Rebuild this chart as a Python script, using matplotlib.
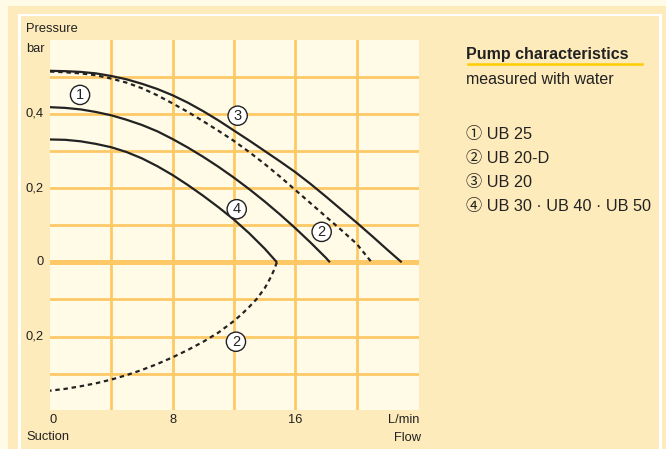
import matplotlib
matplotlib.use("Agg")
import matplotlib.pyplot as plt
from matplotlib.patches import Rectangle
from matplotlib.lines import Line2D

plt.rcParams['font.family'] = ['Liberation Sans', 'Noto Sans CJK JP', 'DejaVu Sans']

# ---------------- data ----------------
# flow in L/min, pressure in bar
flow_3 = [0, 1, 2, 3, 4, 5, 6, 7, 8, 9, 10, 11, 12, 13, 14, 15, 16, 17, 18, 19, 20, 21, 22, 22.94]
pres_3 = [0.516, 0.515, 0.513, 0.509, 0.502, 0.493, 0.481, 0.467, 0.450, 0.430, 0.407, 0.382,
          0.355, 0.328, 0.300, 0.272, 0.243, 0.211, 0.177, 0.142, 0.107, 0.071, 0.034, 0.0]

flow_2 = [0, 1, 2, 3, 4, 5, 6, 7, 8, 9, 10, 11, 12, 13, 14, 15, 16, 17, 18, 19, 20, 20.98]
pres_2 = [0.514, 0.512, 0.509, 0.504, 0.495, 0.484, 0.469, 0.450, 0.428, 0.405, 0.380, 0.354,
          0.327, 0.297, 0.265, 0.231, 0.195, 0.159, 0.123, 0.087, 0.050, 0.0]

flow_1 = [0, 1, 2, 3, 4, 5, 6, 7, 8, 9, 10, 11, 12, 13, 14, 15, 16, 17, 18, 18.26]
pres_1 = [0.418, 0.416, 0.412, 0.405, 0.396, 0.384, 0.370, 0.353, 0.332, 0.309, 0.284, 0.257,
          0.228, 0.197, 0.164, 0.129, 0.092, 0.053, 0.012, 0.0]

flow_4 = [0, 1, 2, 3, 4, 5, 6, 7, 8, 9, 10, 11, 12, 13, 14, 14.8]
pres_4 = [0.331, 0.330, 0.326, 0.319, 0.310, 0.297, 0.280, 0.259, 0.235, 0.208, 0.179, 0.148,
          0.115, 0.078, 0.037, 0.0]

# suction side of UB 20-D (negative = suction)
flow_2s = [14.8, 14.6, 14.4, 14.2, 14.0, 13.5, 13.0, 12.5, 12.0, 11.0, 10.0, 9.0, 8.0, 7.0,
           6.0, 5.0, 4.0, 3.0, 2.0, 1.0, 0]
pres_2s = [0.0, -0.022, -0.040, -0.056, -0.070, -0.098, -0.120, -0.140, -0.158, -0.189, -0.214,
           -0.236, -0.256, -0.274, -0.290, -0.304, -0.316, -0.326, -0.334, -0.341, -0.346]

curve_labels = ['①', '②', '③', '④']
label_digits = ['1', '2', '3', '4', '2']
label_x = [1.96, 17.72, 12.24, 12.18, 12.13]
label_y = [0.451, 0.082, 0.395, 0.143, -0.214]

models = ['UB 25', 'UB 20-D', 'UB 20', 'UB 30 · UB 40 · UB 50']

x_ticks = [0, 8, 16]
x_tick_labels = ['0', '8', '16']
y_ticks = [0.4, 0.2, 0.0, -0.2]
y_tick_labels = ['0,4', '0,2', '0', '0,2']

# ---------------- styling ----------------
W, H = 666, 449
CREAM = '#fffbe6'
BEIGE = '#feebbb'
GRID = '#fdc966'
INK = '#222222'

fig = plt.figure(figsize=(W / 100, H / 100), dpi=100)
fig.patch.set_facecolor(CREAM)


def px_rect(x0, y0, x1, y1, color):
    fig.patches.append(Rectangle((x0 / W, 1 - y1 / H), (x1 - x0) / W, (y1 - y0) / H,
                                 transform=fig.transFigure, facecolor=color,
                                 edgecolor='none', zorder=-10))


px_rect(8, 6, 666, 449, BEIGE)
px_rect(18, 13.5, 662, 449, 'white')
px_rect(21, 16, 659, 449, BEIGE)

ax = fig.add_axes([50 / W, 1 - 410 / H, (419 - 50) / W, (410 - 40) / H])
ax.set_facecolor(CREAM)
ax.set_xlim(0, 24.07)
ax.set_ylim(-0.398, 0.599)
for s in ax.spines.values():
    s.set_visible(False)
ax.set_xticks([])
ax.set_yticks([])

# grid
for gx in [4, 8, 12, 16, 20]:
    ax.axvline(gx, color=GRID, lw=2.0, zorder=1)
for gy in [-0.3, -0.2, -0.1, 0.1, 0.2, 0.3, 0.4, 0.5]:
    ax.axhline(gy, color=GRID, lw=2.0, zorder=1)
ax.axhline(0, color=GRID, lw=3.6, zorder=1)

lw = 1.6
dash = (0, (2.0, 1.7))
ax.plot(flow_3, pres_3, color=INK, lw=lw, zorder=3, solid_capstyle='butt')
ax.plot(flow_1, pres_1, color=INK, lw=lw, zorder=3, solid_capstyle='butt')
ax.plot(flow_4, pres_4, color=INK, lw=lw, zorder=3, solid_capstyle='butt')
ax.plot(flow_2, pres_2, color=INK, lw=lw, ls=dash, zorder=3)
ax.plot(flow_2s, pres_2s, color=INK, lw=lw, ls=dash, zorder=3)

for d, x, y in zip(label_digits, label_x, label_y):
    ax.text(x, y, d, ha='center', va='center', fontsize=10.5, color=INK, zorder=5,
            bbox=dict(boxstyle='circle,pad=0.18', fc='white', ec=INK, lw=1.0))

# tick labels
for xt, lab in zip(x_ticks, x_tick_labels):
    ax.text(xt + (0.2 if xt == 0 else 0), -0.425, lab, ha='center', va='center',
            fontsize=9.3, color=INK, clip_on=False)
for yt, lab in zip(y_ticks, y_tick_labels):
    ax.text(-0.4, yt, lab, ha='right', va='center', fontsize=9.3, color=INK, clip_on=False)

ax.text(24.07, -0.425, 'L/min', ha='right', va='center', fontsize=9.3, color=INK, clip_on=False)

fig.text(26 / W, 1 - 29 / H, 'Pressure', ha='left', va='center', fontsize=9.3, color=INK)
fig.text(26 / W, 1 - 49 / H, 'bar', ha='left', va='center', fontsize=9.3, color=INK)
fig.text(26 / W, 1 - 437 / H, 'Suction', ha='left', va='center', fontsize=9.3, color=INK)
fig.text(421 / W, 1 - 438 / H, 'Flow', ha='right', va='center', fontsize=9.3, color=INK)

# legend block
fig.text(466 / W, 1 - 55 / H, 'Pump characteristics', ha='left', va='center',
         fontsize=11.5, fontweight='bold', color=INK)
fig.lines.append(Line2D([468 / W, 642 / W], [1 - 64 / H, 1 - 64 / H],
                        transform=fig.transFigure, color='#ffcc00', lw=1.8))
fig.text(466 / W, 1 - 79 / H, 'measured with water', ha='left', va='center',
         fontsize=11.5, color=INK)
for i, (c, m) in enumerate(zip(curve_labels, models)):
    yy = 135 + 24 * i
    fig.text(466 / W, 1 - yy / H, c + ' ' + m, ha='left', va='center',
             fontsize=11.7, color=INK)

fig.savefig('out.png', dpi=100, facecolor=fig.get_facecolor())
